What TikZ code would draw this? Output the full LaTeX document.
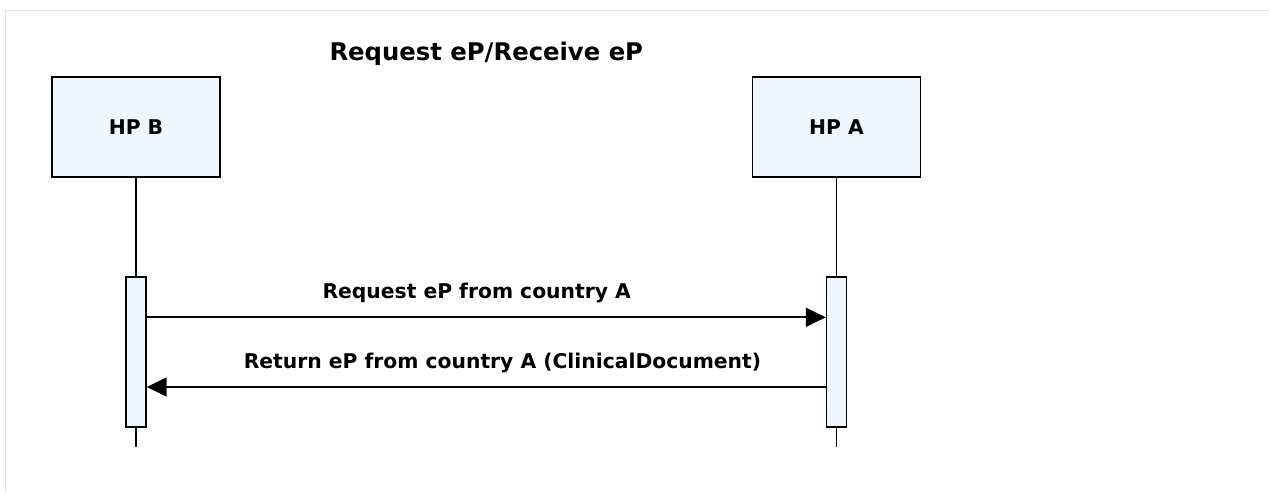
\documentclass[tikz,border=0pt]{standalone}
\usepackage{fontspec}
\setmainfont{DejaVu Sans}
\usetikzlibrary{arrows.meta}
\definecolor{lanefill}{HTML}{EEF6FE}
\definecolor{framegray}{HTML}{E2E2E2}
\begin{document}
\begin{tikzpicture}[x=1pt, y=-1pt, font=\bfseries\fontsize{20.3}{24}\selectfont,
      >={Triangle[length=20pt,width=19pt]},
      actor/.style={draw, line width=1.4pt, fill=lanefill, minimum width=168pt, minimum height=100pt, inner sep=0pt},
      act/.style={draw, line width=1.4pt, fill=lanefill, minimum width=20pt, minimum height=150pt, inner sep=0pt},
      life/.style={line width=1.7pt},
      msg/.style={line width=1.7pt},
      lbl/.style={anchor=base, inner sep=0pt}]
    \useasboundingbox (0,0) rectangle (1269,493);
    \draw[framegray, line width=1.8pt] (5.5,493) -- (5.5,10.5) -- (1269,10.5);
    \node[lbl, font=\bfseries\fontsize{24.3}{28}\selectfont] (title) at (486.3,60.7) {Request eP/Receive eP};
    \node[actor] (hpb) at (136,127) {HP B};
    \node[actor] (hpa) at (836.5,127) {HP A};
    \node[act] (actb) at (136,352) {};
    \node[act] (acta) at (836.5,352) {};
    \coordinate (endb) at (136,447);
    \coordinate (enda) at (836.5,447);
    \draw[life] (hpb.south) -- (actb.north);
    \draw[life] (actb.south) -- (endb);
    \draw[life] (hpa.south) -- (acta.north);
    \draw[life] (acta.south) -- (enda);
    \draw[msg, ->] ([yshift=34.7pt]actb.east) -- ([yshift=34.7pt]acta.west);
    \draw[msg, ->] ([yshift=-35pt]acta.west) -- ([yshift=-35pt]actb.east);
    \node[lbl] (req) at (476.7,298.3) {Request eP from country A};
    \node[lbl] (ret) at (502.5,368.5) {Return eP from country A (ClinicalDocument)};
  \end{tikzpicture}
\end{document}
